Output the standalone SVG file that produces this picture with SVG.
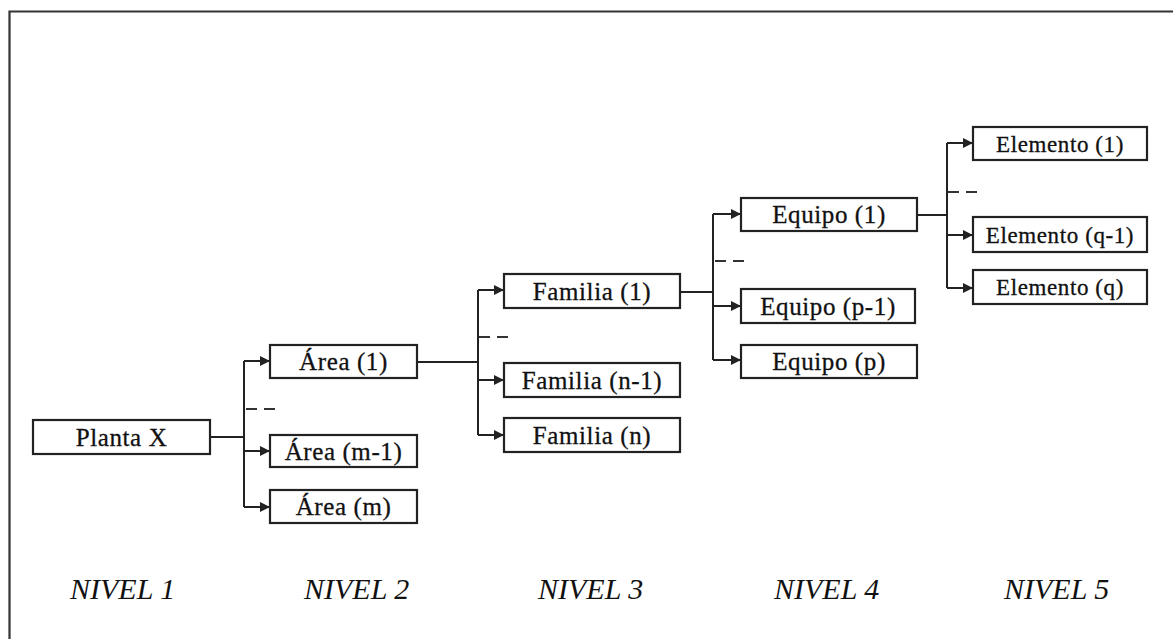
<svg xmlns="http://www.w3.org/2000/svg" width="1173" height="639" viewBox="0 0 1173 639">
  <style>
    .box { fill: #fff; stroke: #222; stroke-width: 2.2; }
    .lbl { font-family: "Liberation Serif", "Times New Roman", serif; font-size: 25px; letter-spacing: 0.6px; fill: #111; stroke: #111; stroke-width: 0.3; text-anchor: middle; }
    .lbl.sm { font-size: 23px; }
    .lvl { font-family: "Liberation Serif", "Times New Roman", serif; font-size: 30px; font-style: italic; fill: #111; }
    .wire { fill: none; stroke: #222; stroke-width: 2; }
    .arr { fill: none; stroke: #222; stroke-width: 2; marker-end: url(#head); }
    .gap { fill: none; stroke: #333; stroke-width: 1.8; stroke-dasharray: 11 7; }
    .frame { fill: none; stroke: #333; stroke-width: 2.2; }
  </style>
  <defs>
    <marker id="head" viewBox="0 0 10 10" refX="10" refY="5" markerWidth="5" markerHeight="5" orient="auto" markerUnits="strokeWidth">
      <path d="M0,0 L10,5 L0,10 z" fill="#222"/>
    </marker>
  </defs>

  <rect width="1173" height="639" fill="#fff"/>
  <!-- outer frame (top and left edges) -->
  <path class="frame" d="M1173,11.5 H9.5 V639"/>

  <!-- connectors -->
  <g id="connectors">
    <!-- level 1 -> level 2 -->
    <path class="wire" d="M210,437 H244 M244,361 V507"/>
    <path class="arr" d="M244,361 H270"/>
    <path class="arr" d="M244,451 H270"/>
    <path class="arr" d="M244,507 H270"/>
    <path class="gap" d="M246,409 H275"/>
    <!-- level 2 -> level 3 -->
    <path class="wire" d="M417,362 H478 M478,290 V435"/>
    <path class="arr" d="M478,290 H504"/>
    <path class="arr" d="M478,380 H504"/>
    <path class="arr" d="M478,435 H504"/>
    <path class="gap" d="M479,337 H508"/>
    <!-- level 3 -> level 4 -->
    <path class="wire" d="M680,292 H713 M713,214 V360"/>
    <path class="arr" d="M713,214 H741"/>
    <path class="arr" d="M713,306 H741"/>
    <path class="arr" d="M713,360 H741"/>
    <path class="gap" d="M715,261 H744"/>
    <!-- level 4 -> level 5 -->
    <path class="wire" d="M917,215 H947 M947,143 V288"/>
    <path class="arr" d="M947,143 H973"/>
    <path class="arr" d="M947,235 H973"/>
    <path class="arr" d="M947,288 H973"/>
    <path class="gap" d="M948,192 H978"/>
  </g>

  <!-- level 1 -->
  <g id="planta-x">
    <rect class="box" x="33" y="420" width="177" height="34"/>
    <text class="lbl" x="121.5" y="446">Planta X</text>
  </g>

  <!-- level 2 -->
  <g id="area-1">
    <rect class="box" x="270" y="345" width="147" height="33"/>
    <text class="lbl" x="343.5" y="370">Área (1)</text>
  </g>
  <g id="area-m-1">
    <rect class="box" x="270" y="435" width="147" height="32"/>
    <text class="lbl" x="343.5" y="460">Área (m-1)</text>
  </g>
  <g id="area-m">
    <rect class="box" x="270" y="490" width="147" height="33"/>
    <text class="lbl" x="343.5" y="515">Área (m)</text>
  </g>

  <!-- level 3 -->
  <g id="familia-1">
    <rect class="box" x="504" y="274" width="176" height="34"/>
    <text class="lbl" x="592" y="300">Familia (1)</text>
  </g>
  <g id="familia-n-1">
    <rect class="box" x="504" y="363" width="176" height="34"/>
    <text class="lbl" x="592" y="389">Familia (n-1)</text>
  </g>
  <g id="familia-n">
    <rect class="box" x="504" y="418" width="176" height="34"/>
    <text class="lbl" x="592" y="444">Familia (n)</text>
  </g>

  <!-- level 4 -->
  <g id="equipo-1">
    <rect class="box" x="741" y="198" width="176" height="33"/>
    <text class="lbl" x="829" y="223">Equipo (1)</text>
  </g>
  <g id="equipo-p-1">
    <rect class="box" x="741" y="289" width="174" height="34"/>
    <text class="lbl" x="828" y="315">Equipo (p-1)</text>
  </g>
  <g id="equipo-p">
    <rect class="box" x="741" y="345" width="176" height="33"/>
    <text class="lbl" x="829" y="370">Equipo (p)</text>
  </g>

  <!-- level 5 -->
  <g id="elemento-1">
    <rect class="box" x="973" y="127" width="174" height="33"/>
    <text class="lbl sm" x="1060" y="152">Elemento (1)</text>
  </g>
  <g id="elemento-q-1">
    <rect class="box" x="973" y="217" width="174" height="35"/>
    <text class="lbl sm" x="1060" y="243">Elemento (q-1)</text>
  </g>
  <g id="elemento-q">
    <rect class="box" x="973" y="270" width="174" height="34"/>
    <text class="lbl sm" x="1060" y="295">Elemento (q)</text>
  </g>

  <!-- level captions -->
  <g id="niveles">
    <text class="lvl" x="70" y="599">NIVEL 1</text>
    <text class="lvl" x="304" y="599">NIVEL 2</text>
    <text class="lvl" x="538" y="599">NIVEL 3</text>
    <text class="lvl" x="774" y="599">NIVEL 4</text>
    <text class="lvl" x="1004" y="599">NIVEL 5</text>
  </g>
</svg>
